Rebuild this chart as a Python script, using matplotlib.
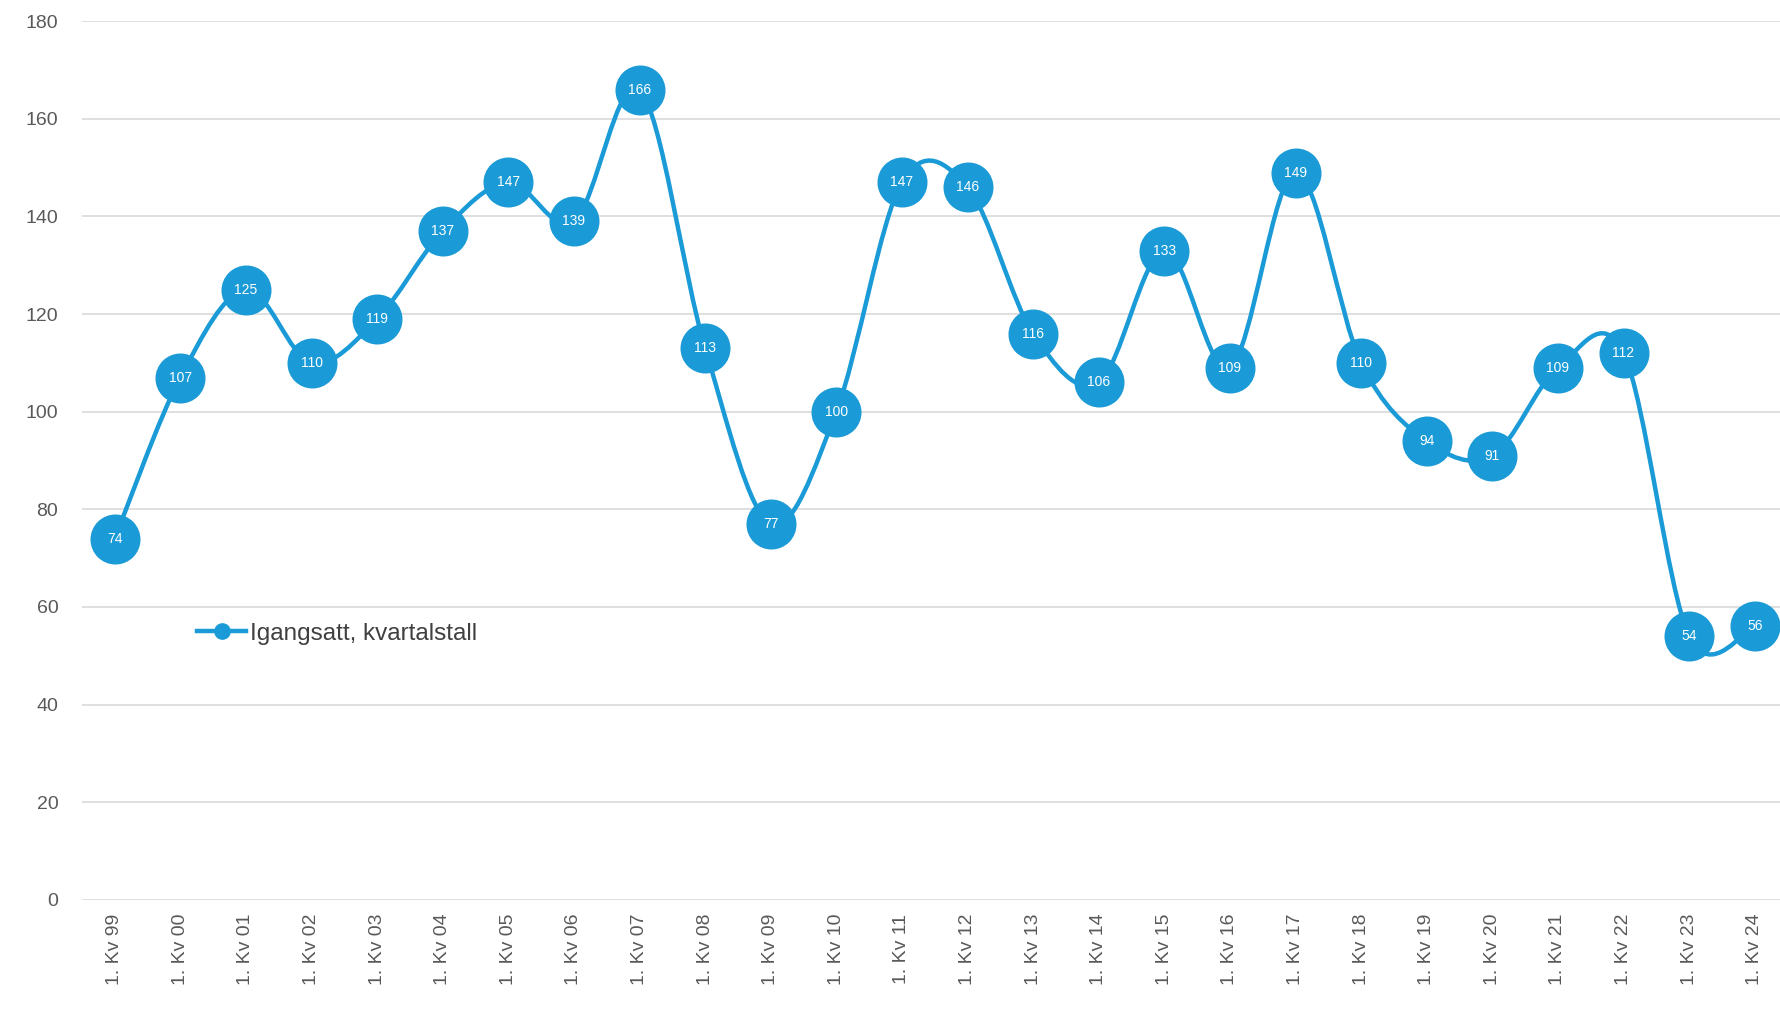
import matplotlib
matplotlib.use("Agg")
import matplotlib.pyplot as plt
from matplotlib.path import Path
from matplotlib.patches import PathPatch
from matplotlib.lines import Line2D

quarters = ["99", "00", "01", "02", "03", "04", "05", "06", "07", "08", "09", "10", "11",
            "12", "13", "14", "15", "16", "17", "18", "19", "20", "21", "22", "23", "24"]
labels = ["1. Kv " + q for q in quarters]
values = [74, 107, 125, 110, 119, 137, 147, 139, 166, 113, 77, 100, 147,
          146, 116, 106, 133, 109, 149, 110, 94, 91, 109, 112, 54, 56]

blue = "#1a9ad6"
plt.rcParams["font.family"] = ["Liberation Sans", "DejaVu Sans"]

fig = plt.figure(figsize=(17.81, 10.11), dpi=100)
ax = fig.add_axes([0.046, 0.110, 0.954, 0.869])

x = list(range(len(values)))

# smoothed line like Excel: cubic bezier segments between the data points
pts = list(zip(x, values))
verts = [pts[0]]
codes = [Path.MOVETO]
n = len(pts)
for i in range(n - 1):
    p0 = pts[max(i - 1, 0)]
    p1 = pts[i]
    p2 = pts[i + 1]
    p3 = pts[min(i + 2, n - 1)]
    c1 = (p1[0] + (p2[0] - p0[0]) / 6, p1[1] + (p2[1] - p0[1]) / 6)
    c2 = (p2[0] - (p3[0] - p1[0]) / 6, p2[1] - (p3[1] - p1[1]) / 6)
    verts += [c1, c2, p2]
    codes += [Path.CURVE4] * 3
ax.add_patch(PathPatch(Path(verts, codes), fill=False, ec=blue, lw=3.2, zorder=2))

ax.plot(x, values, ls="none", marker="o", ms=35, mfc=blue, mec=blue, zorder=3)
for xi, v in zip(x, values):
    ax.text(xi, v, str(v), color="white", fontsize=10, ha="center", va="center", zorder=4)

ax.set_ylim(0, 180)
ax.set_xlim(-0.5, 25.4)
ax.set_yticks(range(0, 181, 20))
ax.set_xticks(x)
ax.set_xticklabels(labels, rotation=90)
ax.grid(axis="y", color="#d9d9d9", lw=1.2)
ax.set_axisbelow(True)
for s in ax.spines.values():
    s.set_visible(False)
ax.tick_params(axis="both", length=0, colors="#595959")
ax.tick_params(axis="y", pad=17, labelsize=14)
ax.tick_params(axis="x", pad=10, labelsize=14)

handle = Line2D([], [], color=blue, lw=3.2, marker="o", ms=11, mfc=blue, mec=blue)
ax.legend([handle], ["Igangsatt, kvartalstall"], loc="center left",
          bbox_to_anchor=(0.055, 0.303), frameon=False, handlelength=2.0,
          handletextpad=0.15, fontsize=17.5, labelcolor="#404040")

fig.savefig("out.png", dpi=100)
